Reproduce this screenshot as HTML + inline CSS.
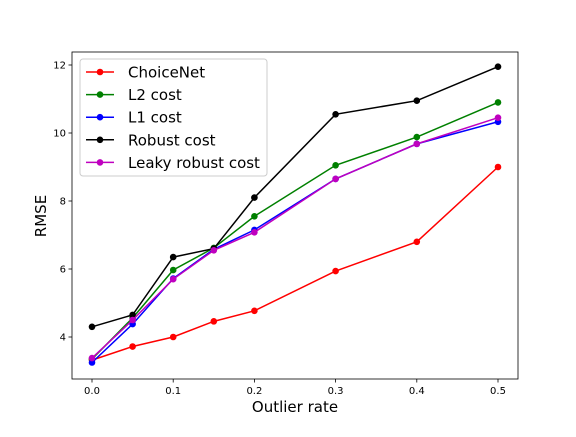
<!DOCTYPE html>
<html><head><meta charset="utf-8"><style>
body{margin:0;background:#fff}
svg text{font-family:"DejaVu Sans","Liberation Sans",sans-serif}
</style></head><body>
<svg id="chart" width="576" height="432" xmlns="http://www.w3.org/2000/svg">
<rect x="0" y="0" width="576" height="432" fill="#fff"/>
<g id="plot"></g>
</svg>
<script>
const xs = [0, 0.05, 0.1, 0.15, 0.2, 0.3, 0.4, 0.5];
const choicenet = [3.32, 3.72, 4.0, 4.46, 4.77, 5.94, 6.8, 9.0];
const l2cost = [3.35, 4.56, 5.97, 6.62, 7.55, 9.05, 9.88, 10.9];
const l1cost = [3.25, 4.38, 5.72, 6.58, 7.15, 8.65, 9.68, 10.33];
const robustcost = [4.3, 4.65, 6.35, 6.6, 8.1, 10.55, 10.95, 11.95];
const leakycost = [3.38, 4.5, 5.7, 6.55, 7.08, 8.65, 9.68, 10.45];
const seriesNames = ["ChoiceNet","L2 cost","L1 cost","Robust cost","Leaky robust cost"];
const xTicks = [0.0, 0.1, 0.2, 0.3, 0.4, 0.5];
const yTicks = [4, 6, 8, 10, 12];

const NS = "http://www.w3.org/2000/svg";
const L=72,R=518,T=52,B=379;
const xS = v => 92 + v*812;
const yS = v => 337 - (v-4)*34;
const g = document.getElementById('plot');
function mk(tag, attrs, parent){const e=document.createElementNS(NS,tag);for(const k in attrs)e.setAttribute(k,attrs[k]);(parent||g).appendChild(e);return e;}

const frame = mk('rect',{x:L,y:T,width:R-L,height:B-T,fill:'none',stroke:'#000','stroke-width':0.8});



xTicks.forEach(t=>{
  const x=xS(t);
  const tk=mk('line',{x1:x,x2:x,y1:B,y2:B+3.5,stroke:'#000','stroke-width':0.8});
  
  
  const tx=mk('text',{x:x,y:B+15,'font-size':10,'text-anchor':'middle'});
  tx.textContent=t.toFixed(1);
  
  
});
yTicks.forEach(t=>{
  const y=yS(t);
  const tk=mk('line',{x1:L-3.5,x2:L,y1:y,y2:y,stroke:'#000','stroke-width':0.8});
  
  
  const tx=mk('text',{x:L-6,y:y+3.5,'font-size':10,'text-anchor':'end'});
  tx.textContent=t;
  
  
});
const xt=mk('text',{x:295,y:412,'font-size':15,'text-anchor':'middle'});
xt.textContent='Outlier rate';


const yt=mk('text',{x:46,y:216,'font-size':15,'text-anchor':'middle',transform:'rotate(-90 46 216)'});
yt.textContent='RMSE';



const allSeries=[choicenet,l2cost,l1cost,robustcost,leakycost];
const colors=['#ff0000','#008000','#0000ff','#000000','#bf00bf'];
allSeries.forEach((s,i)=>{
  const pts=xs.map((x,j)=>xS(x)+','+yS(s[j])).join(' ');
  const pl=mk('polyline',{points:pts,fill:'none',stroke:colors[i],'stroke-width':1.5});
  
  
  xs.forEach((x,j)=>{
    const c=mk('circle',{cx:xS(x),cy:yS(s[j]),r:3.3,fill:colors[i]});
    
    
  });
});

const lg=mk('g',{});


mk('rect',{x:80,y:59,width:187,height:117,rx:3,fill:'#fff','fill-opacity':0.8,stroke:'#ccc','stroke-width':1},lg);
seriesNames.forEach((n,i)=>{
  const y=72+i*22.6;
  const e=mk('g',{},lg);
  
  
  mk('line',{x1:86,x2:114,y1:y,y2:y,stroke:colors[i],'stroke-width':1.5},e);
  mk('circle',{cx:100,cy:y,r:3.3,fill:colors[i]},e);
  const t=mk('text',{x:128,y:y+5.5,'font-size':15},e);
  t.textContent=n;
});
</script>
</body></html>
